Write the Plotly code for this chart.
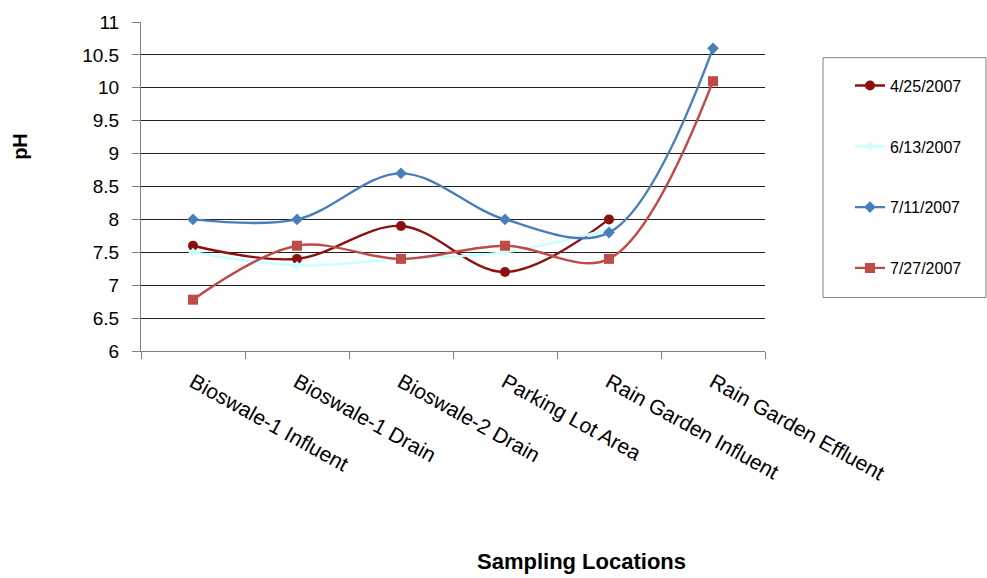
import plotly.graph_objects as go

locations = ["Bioswale-1 Influent", "Bioswale-1 Drain", "Bioswale-2 Drain",
             "Parking Lot Area", "Rain Garden Influent", "Rain Garden Effluent"]
ph_0425 = [7.6, 7.4, 7.9, 7.2, 8.0, None]
ph_0613 = [7.5, 7.3, 7.4, 7.5, 7.85, None]
ph_0711 = [8.0, 8.0, 8.7, 8.0, 7.8, 10.6]
ph_0727 = [6.78, 7.6, 7.4, 7.6, 7.4, 10.1]
y_ticks = [6, 6.5, 7, 7.5, 8, 8.5, 9, 9.5, 10, 10.5, 11]
y_tick_labels = ["6", "6.5", "7", "7.5", "8", "8.5", "9", "9.5", "10", "10.5", "11"]

series = [
    ("4/25/2007", ph_0425, "#8B1111", "circle", 10),
    ("6/13/2007", ph_0613, "#CCFFFF", "diamond", 7),
    ("7/11/2007", ph_0711, "#4A7EBB", "diamond", 9),
    ("7/27/2007", ph_0727, "#BE4B48", "square", 10),
]

fig = go.Figure()
for i, (name, vals, color, sym, size) in enumerate(series):
    fig.add_trace(go.Scatter(
        x=locations, y=vals, name=name, mode="lines+markers",
        line=dict(color=color, width=2.4, shape="spline", smoothing=1.0),
        marker=dict(color=color, symbol=sym, size=size),
        legendgroup="g%d" % i, connectgaps=False,
    ))

fig.update_layout(
    width=987, height=578,
    margin=dict(l=141, r=222, t=19, b=227),
    plot_bgcolor="white", paper_bgcolor="white",
    font=dict(family="Liberation Sans, Arial, sans-serif", color="black"),
    showlegend=True,
    legend=dict(
        x=(850 - 141) / 624, y=(351 - 66) / 332, xanchor="left", yanchor="top",
        borderwidth=0, bgcolor="rgba(0,0,0,0)",
        font=dict(size=16), tracegroupgap=37,
        itemwidth=30,
    ),
)
fig.add_shape(type="rect", xref="paper", yref="paper",
              x0=(823 - 141) / 624, x1=(986 - 141) / 624,
              y0=(351 - 297) / 332, y1=(351 - 55) / 332,
              line=dict(color="#808080", width=1), fillcolor="rgba(0,0,0,0)")
fig.update_xaxes(
    type="category", categoryorder="array", categoryarray=locations,
    range=[-0.5, 5.5],
    showline=True, linecolor="#808080", linewidth=1,
    ticks="outside", tickson="boundaries", ticklen=7, tickcolor="#808080",
    tickangle=29, tickfont=dict(size=21), showgrid=False,
    ticklabelstandoff=10,
)
fig.update_yaxes(
    range=[6, 11], tickvals=y_ticks, ticktext=y_tick_labels,
    showline=True, linecolor="#808080", linewidth=1,
    ticks="outside", ticklen=8, tickcolor="#808080",
    tickfont=dict(size=19), ticklabelstandoff=9,
    showgrid=True, gridcolor="#202020", gridwidth=1, zeroline=False,
)
fig.add_annotation(text="<b>pH</b>", xref="paper", yref="paper",
                   x=(20 - 141) / 624, y=(351 - 145) / 332, showarrow=False,
                   textangle=-90, xanchor="center", yanchor="middle",
                   font=dict(size=20))
fig.add_annotation(text="<b>Sampling Locations</b>", xref="paper", yref="paper",
                   x=(581 - 141) / 624, y=(351 - 563) / 332, showarrow=False,
                   xanchor="center", yanchor="middle",
                   font=dict(size=22))
fig.write_html("out.html")
